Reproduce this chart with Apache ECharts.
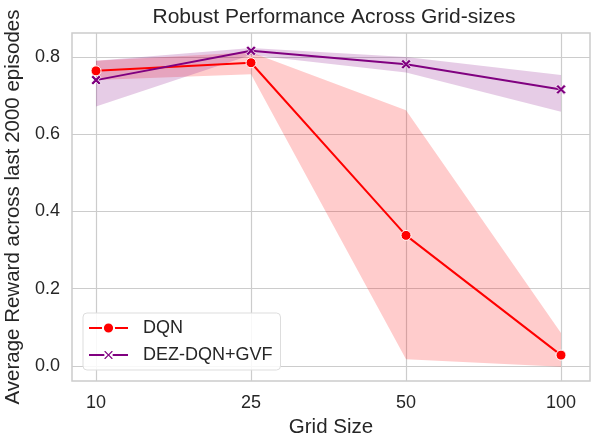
<!DOCTYPE html>
<html>
<head>
<meta charset="utf-8">
<script src="https://cdn.jsdelivr.net/npm/echarts@6/dist/echarts.min.js"></script>
<style>
  html, body { margin: 0; padding: 0; background: #fff; }
  #chart { width: 592px; height: 437px; }
</style>
</head>
<body>
<div id="chart"></div>
<script>
  // grid sizes, drawn evenly spaced (categorical)
  const gridSizes = ['10', '25', '50', '100'];
  const yTicks = [0.0, 0.2, 0.4, 0.6, 0.8];

  const dqnMean = [0.764, 0.785, 0.338, 0.028];
  const dqnLow = [0.740, 0.755, 0.017, -0.002];
  const dqnHigh = [0.790, 0.812, 0.662, 0.085];

  const dezMean = [0.740, 0.816, 0.781, 0.716];
  const dezLow = [0.672, 0.805, 0.760, 0.658];
  const dezHigh = [0.790, 0.823, 0.800, 0.753];

  const RED = '#ff0000';
  const PURPLE = '#800080';
  const TEXT = '#262626';
  const FONT = 'Liberation Sans, Arial, sans-serif';

  const idx = gridSizes.map((_, i) => i);
  const pts = arr => arr.map((v, i) => [i, v]);

  // confidence band as a polygon, placed through the axes
  function band(name, low, high, color) {
    return {
      name: name, type: 'custom', silent: true, z: 1,
      data: [[0, 0]],
      renderItem: function (params, api) {
        const upper = high.map((v, i) => api.coord([i, v]));
        const lower = low.map((v, i) => api.coord([i, v])).reverse();
        return {
          type: 'polygon',
          shape: { points: upper.concat(lower) },
          style: { fill: color }
        };
      }
    };
  }

  const xMarker = 'path://M0,2 L2,0 L5,3 L8,0 L10,2 L7,5 L10,8 L8,10 L5,7 L2,10 L0,8 L3,5 Z';

  const chart = echarts.init(document.getElementById('chart'));
  chart.setOption({
    animation: false,
    textStyle: { fontFamily: FONT, color: TEXT },
    title: {
      text: 'Robust Performance Across Grid-sizes',
      left: 329, top: 2, textAlign: 'center',
      textStyle: { fontFamily: FONT, fontSize: 21, fontWeight: 'normal', color: TEXT }
    },
    grid: {
      left: 72, right: 2, top: 33, bottom: 56,
      outerBoundsMode: 'none',
      show: true, borderColor: '#cccccc', borderWidth: 1.5, containLabel: false
    },
    legend: {
      data: ['DQN', 'DEZ-DQN+GVF'],
      orient: 'vertical', left: 83, top: 313,
      padding: [6, 8, 6, 5],
      itemWidth: 39, itemHeight: 14, itemGap: 9,
      backgroundColor: 'rgba(255,255,255,0.85)',
      borderColor: '#dddddd', borderWidth: 1, borderRadius: 4,
      textStyle: { fontFamily: FONT, fontSize: 18, color: TEXT, padding: [0, 0, 0, 10] }
    },
    xAxis: {
      type: 'value', min: -0.155, max: 3.187,
      name: 'Grid Size', nameLocation: 'middle', nameGap: 36,
      nameTextStyle: { fontFamily: FONT, fontSize: 20.5, color: TEXT },
      axisLine: { show: false },
      axisTick: { show: false, customValues: idx },
      axisLabel: {
        customValues: idx, margin: 13,
        fontFamily: FONT, fontSize: 18, color: TEXT,
        formatter: v => gridSizes[Math.round(v)]
      },
      splitLine: { show: true, lineStyle: { color: '#cccccc', width: 1.2 } }
    },
    yAxis: {
      type: 'value', min: -0.039, max: 0.862,
      name: 'Average Reward across last 2000 episodes',
      nameLocation: 'middle', nameGap: 41,
      nameTextStyle: { fontFamily: FONT, fontSize: 20.5, color: TEXT },
      axisLine: { show: false },
      axisTick: { show: false, customValues: yTicks },
      axisLabel: {
        customValues: yTicks, margin: 12,
        fontFamily: FONT, fontSize: 18, color: TEXT,
        formatter: v => v.toFixed(1)
      },
      splitLine: { show: true, lineStyle: { color: '#cccccc', width: 1.2 } }
    },
    series: [
      band('dqnBand', dqnLow, dqnHigh, 'rgba(255,0,0,0.2)'),
      band('dezBand', dezLow, dezHigh, 'rgba(128,0,128,0.2)'),
      {
        name: 'DQN', type: 'line', data: pts(dqnMean),
        symbol: 'circle', symbolSize: 10, showAllSymbol: true,
        lineStyle: { color: RED, width: 2 },
        itemStyle: { color: RED, borderColor: '#fff', borderWidth: 1 },
        z: 3
      },
      {
        name: 'DEZ-DQN+GVF', type: 'line', data: pts(dezMean),
        symbol: xMarker, symbolSize: 10, showAllSymbol: true,
        lineStyle: { color: PURPLE, width: 2 },
        itemStyle: { color: PURPLE, borderColor: '#fff', borderWidth: 0.8 },
        z: 4
      }
    ]
  });
</script>
</body>
</html>
